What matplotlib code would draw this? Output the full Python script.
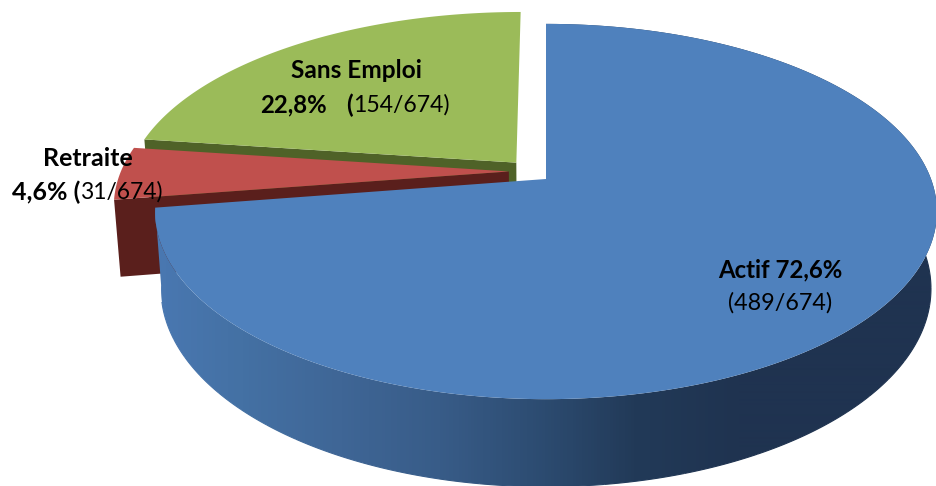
import numpy as np
import matplotlib
matplotlib.use("Agg")
import matplotlib.pyplot as plt
from matplotlib.colors import LinearSegmentedColormap
from matplotlib.patches import Polygon

plt.rcParams['font.family'] = ['Lato', 'DejaVu Sans']

# Employment status counts
categories = ["Actif", "Retraite", "Sans Emploi"]
counts = [489, 31, 154]
total = 674
percent_labels = ["72,6%", "4,6%", "22,8%"]
top_colors = ["#4F81BD", "#C0504D", "#9BBB59"]
cut_colors = ["#1F3350", "#5A1F1C", "#4F6228"]

# Perspective of the tilted disc, in pixels
CX, CY = 546, 179
RX, RY = 385, 182
TILT = 0.1733
FALLOFF = 0.015
DEPTH = 77
EXPLODE = 0.065
SMALL_X_STRETCH = 1.015
SMALL_X_SHIFT = 0.85


def project(X, Y, h=0.0):
    w = 1 + TILT * np.asarray(Y) + FALLOFF * h
    return CX + RX * np.asarray(X) / w, CY + (-RY * np.asarray(Y) + DEPTH * h) / w


fractions = np.array(counts) / sum(counts)
edges = np.concatenate([[0], np.cumsum(fractions) * 2 * np.pi])
mids = (edges[:-1] + edges[1:]) / 2
# Slices move apart along their bisectors; the largest one stays put on screen
offsets = [EXPLODE * np.array([np.sin(m) - np.sin(mids[0]), np.cos(m) - np.cos(mids[0])])
           for m in mids]

fig = plt.figure(figsize=(9.36, 4.86), dpi=100)
ax = fig.add_axes([0, 0, 1, 1])

wall_cmap = LinearSegmentedColormap.from_list(
    "wall",
    [(0.0, "#4A78B2"), (0.114, "#4471A4"), (0.24, "#3F6696"), (0.367, "#385C88"),
     (0.5, "#2C4B70"), (0.615, "#223A58"), (0.747, "#1F3350"), (1.0, "#1F3350")],
)


def draw_small_slice(i, z):
    start, stop = edges[i], edges[i + 1]
    ox, oy = offsets[i]
    ox = ox * SMALL_X_SHIFT
    t = np.linspace(start, stop, 200)
    X, Y = ox + SMALL_X_STRETCH * np.sin(t), oy + np.cos(t)

    # Radial cut face looking toward the viewer
    cX, cY = X[0], Y[0]
    p0 = project(ox, oy)
    p1 = project(cX, cY)
    q1 = project(cX, cY, 1.0)
    q0 = project(ox, oy, 1.0)
    ax.fill([p0[0], p1[0], q1[0], q0[0]], [p0[1], p1[1], q1[1], q0[1]],
            color=cut_colors[i], lw=0, zorder=z)

    px, py = project(np.r_[ox, X], np.r_[oy, Y])
    ax.fill(px, py, color=top_colors[i], lw=0, zorder=z + 0.5)


def draw_main_slice(i, z):
    start, stop = edges[i], edges[i + 1]
    t = np.linspace(start, stop, 600)
    X, Y = np.sin(t), np.cos(t)
    sx, sy = project(X, Y)
    bx, by = project(X, Y, 1.0)

    # Outer wall: a horizontal shading clipped to the wall outline
    gradient = np.linspace(0, 1, 790).reshape(1, -1)
    outline = Polygon(np.c_[np.r_[sx, bx[::-1]], np.r_[sy, by[::-1]]],
                      closed=True, transform=ax.transData)
    image = ax.imshow(gradient, cmap=wall_cmap, vmin=0, vmax=1, aspect="auto",
                      extent=(150, 940, 490, 0), interpolation="bilinear", zorder=z)
    image.set_clip_path(outline)

    # Soft silhouette so the clipped shading keeps a smooth rim
    rim = (Y < 0.15)
    for k in range(0, len(t) - 12, 12):
        if rim[k]:
            shade = wall_cmap(np.clip((bx[k + 6] - 150) / 790, 0, 1))
            ax.plot(bx[k:k + 13], by[k:k + 13], color=shade, lw=0.8,
                    solid_capstyle="butt", zorder=z + 0.1)

    # Thin shadow along the vertical cut
    a = project(0.0, 0.0)
    b = project(np.sin(start), np.cos(start))
    ax.plot([a[0], b[0]], [a[1], b[1]], color=cut_colors[i], lw=0.7, zorder=z + 0.2)

    ax.fill(np.r_[a[0], sx], np.r_[a[1], sy], color=top_colors[i], lw=0, zorder=z + 0.5)


# Painted from back to front
draw_small_slice(2, 1)
draw_small_slice(1, 2)
draw_main_slice(0, 3)

ax.set_xlim(0, 936)
ax.set_ylim(486, 0)
ax.axis("off")


def label(x, y, text, size, bold=False, ha="left"):
    ax.text(x, y, text, fontsize=size, fontweight="bold" if bold else "normal",
            color="black", ha=ha, va="center", zorder=6)


label(356, 70, categories[2], 17.6, True, "center")
label(260, 105, percent_labels[2], 17.3, True)
label(346, 105, "(", 17.3, True)
label(353, 105, f"{counts[2]}/{total})", 16.6)

label(88, 158, categories[1], 18, True, "center")
label(12, 192, percent_labels[1] + " (", 18, True)
label(81, 192, f"{counts[1]}/{total})", 16.4)

label(780, 270, f"{categories[0]} {percent_labels[0]}", 17.3, True, "center")
label(780, 303, f"({counts[0]}/{total})", 16.8, False, "center")

fig.savefig("out.png", dpi=100)
